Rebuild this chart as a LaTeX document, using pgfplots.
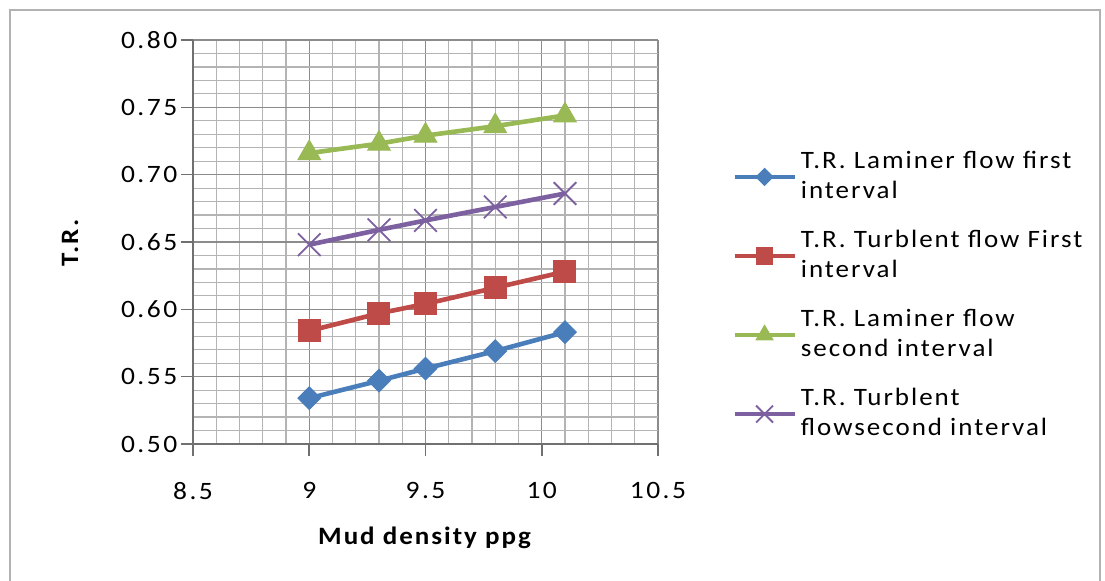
\documentclass[border=0pt]{standalone}
\usepackage{fontspec}
\setmainfont{Carlito}[FakeStretch=1.08, LetterSpace=8]
\newfontfamily\tickfont{Carlito}[FakeStretch=1.1, LetterSpace=10]
\usepackage{pgfplots}
\pgfplotsset{compat=1.18}
\definecolor{cblue}{HTML}{4A7EBB}
\definecolor{cred}{HTML}{BE4B48}
\definecolor{cgreen}{HTML}{98B954}
\definecolor{cpurple}{HTML}{7D60A0}
\definecolor{gridmaj}{HTML}{8C8C8C}
\definecolor{gridmin}{HTML}{B4B4B4}
\begin{document}
\fontsize{12.5}{15}\selectfont
\begin{tikzpicture}[x=1pt,y=1pt]
\useasboundingbox (0,0) rectangle (552.5,290.5);
\draw[gray!60, line width=0.8pt] (5,-5) rectangle (550,285.5);
\begin{axis}[
  at={(96.5pt,68.5pt)}, anchor=south west,
  width=232.5pt, height=202pt, scale only axis,
  xmin=8.5, xmax=10.5, ymin=0.5, ymax=0.8,
  xtick={8.5,9,9.5,10,10.5},
  ytick={0.5,0.55,0.6,0.65,0.7,0.75,0.8},
  minor x tick num=4, minor y tick num=4,
  grid=both,
  major grid style={gridmaj, line width=0.7pt},
  minor grid style={gridmin, line width=0.6pt},
  axis lines=left, axis line style={-, gridmaj!80!black, line width=0.8pt},
  tick align=outside, major tick length=6pt, minor tick length=0pt,
  tick style={gridmaj!80!black, line width=0.8pt},
  /pgf/number format/assume math mode=true,
  ticklabel style={font=\tickfont\fontsize{12.5}{15}\selectfont},
  yticklabel style={/pgf/number format/.cd, fixed, fixed zerofill, precision=2, /tikz/.cd, xshift=2.5pt},
  xticklabel style={yshift=-9pt},
  ylabel={\textbf{T.R.}}, xlabel={\textbf{Mud density ppg}},
  xlabel style={at={(axis description cs:0.5,0)}, anchor=center, yshift=-47pt},
  ylabel style={at={(axis description cs:-0.2645,0.5)}, anchor=center},
  legend style={at={(axis description cs:1.146,0.745)}, anchor=north west, draw=none, fill=none,
    row sep=10pt, font=\fontsize{12.5}{15}\selectfont, cells={align=left}},
  legend cell align=left,
  legend image code/.code={\draw[mark repeat=2,mark phase=2, every mark/.append style={scale=0.75}] plot coordinates {(0pt,0pt) (15pt,0pt) (30pt,0pt)};},
]
\addplot[cblue, line width=2.3pt, mark=square*, mark size=4pt, mark options={rotate=45, solid, line width=0.5pt}] table {
x y
9.0 0.534
9.3 0.547
9.5 0.556
9.8 0.569
10.1 0.583
};
\addlegendentry{T.R. Laminer flow first\\interval}
\addplot[cred, line width=2.3pt, mark=square*, mark size=5.5pt, mark options={solid, line width=0.5pt}] table {
x y
9.0 0.584
9.3 0.597
9.5 0.604
9.8 0.616
10.1 0.628
};
\addlegendentry{T.R. Turblent flow First\\interval}
\addplot[cgreen, line width=2.3pt, mark=triangle*, mark size=6.5pt, mark options={solid, line width=0.5pt}] table {
x y
9.0 0.716
9.3 0.723
9.5 0.729
9.8 0.736
10.1 0.744
};
\addlegendentry{T.R. Laminer flow\\second interval}
\addplot[cpurple, line width=2.3pt, mark=x, mark size=8pt, mark options={solid, line width=0.9pt}] table {
x y
9.0 0.648
9.3 0.659
9.5 0.666
9.8 0.676
10.1 0.686
};
\addlegendentry{T.R. Turblent\\flowsecond interval}
\end{axis}
\end{tikzpicture}
\end{document}
